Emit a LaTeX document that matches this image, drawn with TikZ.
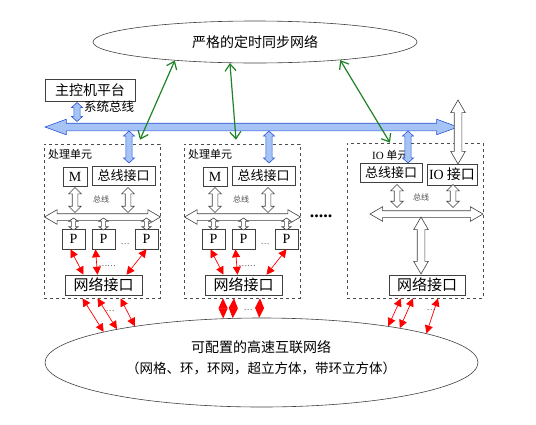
\documentclass[tikz,border=0pt]{standalone}
\usepackage{fontspec}
\setmainfont{Liberation Serif}
\newfontfamily\cjk{Noto Sans CJK SC}
\usetikzlibrary{shapes.geometric,shapes.arrows,arrows.meta}
\definecolor{busfill}{RGB}{165,195,245}
\definecolor{busline}{RGB}{45,85,215}
\definecolor{syncgreen}{RGB}{30,130,40}
\newcommand{\setfs}[1]{\fontsize{#1}{#1}\selectfont}
\tikzset{
  box/.style={draw=black!75, line width=0.6pt, fill=white, inner sep=0pt, font=\cjk\setfs{13}},
  unitbox/.style={draw=black!70, line width=0.6pt, dashed, inner sep=0pt},
  cloud/.style={ellipse, draw=black!75, line width=0.6pt, inner sep=0pt},
  lbl/.style={inner sep=0pt, font=\cjk\setfs{11}},
  tiny/.style={inner sep=0pt, font=\cjk\setfs{8}, text=black!70},
  busarrow/.style={double arrow, draw=busline, line width=0.6pt, fill=busfill, inner sep=3.5pt,
    double arrow head extend=4pt, double arrow tip angle=40, minimum height=#1},
  busv/.style={double arrow, draw=busline, line width=0.6pt, fill=busfill, rotate=90, inner sep=2.8pt,
    double arrow head extend=2.5pt, double arrow tip angle=95, minimum height=#1},
  fatv/.style={double arrow, draw=black!75, line width=0.6pt, fill=white, rotate=90, inner sep=2.5pt,
    double arrow head extend=3.5pt, double arrow tip angle=90, minimum height=#1},
  smallv/.style={fatv=#1, inner sep=1.8pt, double arrow head extend=2.5pt, double arrow tip angle=110},
  fath/.style={double arrow, draw=black!75, line width=0.6pt, fill=white, inner sep=3pt,
    double arrow head extend=4pt, double arrow tip angle=60, minimum height=#1},
  fatw/.style={double arrow, draw=black!75, line width=0.6pt, fill=white, rotate=90, inner sep=3.5pt,
    double arrow head extend=3.5pt, double arrow tip angle=60, minimum height=#1},
  syncarrow/.style={draw=syncgreen, line width=1.2pt,
    {Straight Barb[length=7pt,width=11pt]}-{Straight Barb[length=7pt,width=11pt]}},
  netarrow/.style={draw=red, line width=0.7pt,
    {Triangle[length=8pt,width=8pt]}-{Triangle[length=8pt,width=8pt]}},
  diamondarrow/.style={draw=red, line width=0.6pt,
    {Triangle[length=10pt,width=9pt]}-{Triangle[length=10pt,width=9pt]}}
}
\begin{document}
\begin{tikzpicture}[x=1pt,y=-1pt]
    \useasboundingbox (0,0) rectangle (536,424);
    % the two networks
    \node[cloud, minimum width=324pt, minimum height=42pt, font=\cjk\setfs{14}] (sync) at (255,42) {严格的定时同步网络};
    \node[cloud, minimum width=433pt, minimum height=89pt] (net) at (261.5,362.5) {};
    \node[lbl, font=\cjk\setfs{14}] (nt1) at (261,347) {可配置的高速互联网络};
    \node[lbl, font=\cjk\setfs{13.5}] (nt2) at (261,368) {（网格、环，环网，超立方体，带环立方体）};
    % host and system bus
    \node[box, minimum width=90pt, minimum height=22pt, font=\cjk\setfs{14}] (host) at (90,90) {主控机平台};
    \node[busv=19pt] (hb) at (77,112) {};
    \node[lbl, anchor=west, font=\cjk\setfs{12.5}] (hbl) at (84,107) {系统总线};
    \node[busarrow=413pt] (sysbus) at (251.5,127) {};
    % processing units
    \foreach \u/\dx in {1/0,2/140}{
        \begin{scope}[xshift=\dx pt]
            \node[unitbox, minimum width=116pt, minimum height=154pt] (pu\u) at (102,221) {};
            \node[lbl, anchor=west] (pl\u) at (48,154) {处理单元};
            \node[box, minimum width=24pt, minimum height=19pt, font=\rmfamily\setfs{14}] (m\u) at (75,176.5) {M};
            \node[box, minimum width=63pt, minimum height=19pt] (bi\u) at (123.5,176) {总线接口};
            \node[busv=32pt] (bb\u) at (129,147) {};
            \node[fatv=25pt] (am\u) at (75,200) {};
            \node[fatv=25pt] (ab\u) at (128,200) {};
            \node[tiny] (bl\u) at (101,199) {总线};
            \node[fath=116pt] (hb\u) at (102.5,217) {};
            \foreach \k/\px in {1/73.5,2/103.5,3/146.5}{
                \node[box, minimum width=23pt, minimum height=20pt, font=\rmfamily\setfs{14}] (p\u\k) at (\px,239) {P};
                \node[smallv=12pt] (ap\u\k) at (\px,224) {};
            }
            \node[tiny] (pd\u) at (125,244) {…};
            \node[box, minimum width=77pt, minimum height=20pt, font=\cjk\setfs{15}] (ni\u) at (103.5,285) {网络接口};
            \draw[netarrow] ([xshift=-3pt]p\u1.south) -- ([xshift=-20pt]ni\u.north);
            \draw[netarrow] ([xshift=-8pt]p\u2.south) -- ([xshift=-6pt]ni\u.north);
            \draw[netarrow] (p\u3.south) -- ([xshift=23pt]ni\u.north);
            \node[tiny] (nd\u) at (107,266) {……};
        \end{scope}
    }
    % IO unit
    \node[unitbox, minimum width=136pt, minimum height=155pt] (iou) at (415,220.5) {};
    \node[lbl, anchor=west] (iol) at (372,155) {{\rmfamily IO}~单元};
    \node[box, minimum width=62pt, minimum height=19pt] (bi3) at (391,173) {总线接口};
    \node[box, minimum width=50pt, minimum height=21pt, font=\cjk\setfs{14}] (io) at (452,174.5) {{\rmfamily IO}~接口};
    \node[busv=32pt] (bb3) at (408,147) {};
    \node[fatv=23pt] (ab3) at (397,196) {};
    \node[fatv=23pt] (ai3) at (453,196) {};
    \node[tiny] (bl3) at (421,197) {总线};
    \node[fath=113pt] (hb3) at (426.5,214) {};
    \node[fatw=57pt] (an3) at (421,245.5) {};
    \node[box, minimum width=76pt, minimum height=20pt, font=\cjk\setfs{15}] (ni3) at (427,285) {网络接口};
    \node[fatw=64pt] (aio) at (458,132) {};
    % more units
    \node[inner sep=0pt, font=\rmfamily\bfseries\setfs{18}] (more) at (321,216) {.....};
    % sync network links
    \draw[syncarrow] (sync.193) -- ([xshift=38pt,yshift=4pt]pu1.north);
    \draw[syncarrow] (sync.220) -- ([xshift=-6pt,yshift=4pt]pu2.north);
    \draw[syncarrow] (sync.348) -- ([xshift=-25pt]iou.north);
    % interconnect links
    \draw[netarrow] ([xshift=-21pt,yshift=-3pt]ni1.south) -- (net.169);
    \draw[netarrow] ([xshift=-6pt,yshift=-3pt]ni1.south) -- (net.167);
    \draw[netarrow] ([xshift=17pt,yshift=-3pt]ni1.south) -- (net.164);
    \node[tiny] (nd4) at (110,311) {…};
    \draw[diamondarrow] ([xshift=-20.5pt,yshift=-3pt]ni2.south) -- (net.131);
    \draw[diamondarrow] ([xshift=-9.5pt,yshift=-3pt]ni2.south) -- (net.123);
    \draw[diamondarrow] ([xshift=16.5pt,yshift=-3pt]ni2.south) -- (net.93);
    \node[tiny] (nd5) at (248,310) {…};
    \draw[netarrow] ([xshift=-26pt,yshift=-3pt]ni3.south) -- (net.16);
    \draw[netarrow] ([xshift=-14pt,yshift=-3pt]ni3.south) -- (net.14);
    \draw[netarrow] ([xshift=11pt,yshift=-3pt]ni3.south) -- (net.10);
    \node[tiny] (nd6) at (431,310) {…};
\end{tikzpicture}
\end{document}
